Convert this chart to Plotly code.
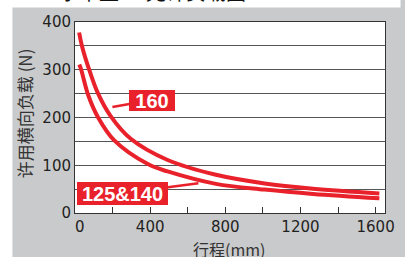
import plotly.graph_objects as go

# ---- data ----
stroke_160 = [22, 37, 80, 123, 188, 295, 493, 750, 1009, 1267, 1620]
load_160 = [378, 350, 295, 250, 204, 156, 111, 80, 62, 51, 41]

stroke_125 = [23, 33, 71, 123, 209, 390, 493, 750, 1009, 1267, 1620]
load_125 = [311, 300, 246, 200, 152, 102, 87, 61, 49, 40, 31]

x_tick_vals = [0, 200, 400, 600, 800, 1000, 1200, 1400, 1600]
x_tick_text = ["\u00a0\u00a00", "", "400", "", "800", "", "1200", "", "1600"]
y_tick_vals = [0, 50, 100, 150, 200, 250, 300, 350, 400]
y_tick_text = ["0", "", "100", "", "200", "", "300", "", "400"]

label_160 = "160"
label_125 = "125&140"
x_title = "行程(mm)"
y_title = "许用横向负载 (N)"

RED = "#e8212b"
GRAY = "#c9cacc"
INK = "#231f20"

W, H = 405, 257
L, R, T, B = 74.5, 11, 21.5, 43.7
pw, ph = W - L - R, H - T - B


def px_to_paper_x(px):
    return (px - L) / pw


def px_to_paper_y(py):
    return (H - B - py) / ph


fig = go.Figure()
fig.add_trace(go.Scatter(x=stroke_160, y=load_160, mode="lines",
                         line=dict(color=RED, width=4, shape="spline", smoothing=1.0),
                         hoverinfo="skip", showlegend=False))
fig.add_trace(go.Scatter(x=stroke_125, y=load_125, mode="lines",
                         line=dict(color=RED, width=4, shape="spline", smoothing=1.0),
                         hoverinfo="skip", showlegend=False))

fig.update_layout(
    width=W, height=H,
    margin=dict(l=L, r=R, t=T, b=B, pad=0),
    paper_bgcolor=GRAY,
    plot_bgcolor="white",
    font=dict(family="DejaVu Sans", color=INK, size=15),
    showlegend=False,
)

fig.update_xaxes(
    range=[0, 1650], tickmode="array", tickvals=x_tick_vals, ticktext=x_tick_text,
    ticks="inside", ticklen=6, tickwidth=1, tickcolor="#333",
    showgrid=False, zeroline=False,
    showline=True, mirror=True, linecolor="#333", linewidth=1,
    tickfont=dict(size=15, color=INK, family="DejaVu Sans"),
)
fig.update_yaxes(
    range=[0, 400], tickmode="array", tickvals=y_tick_vals, ticktext=y_tick_text,
    ticks="", showgrid=True, gridcolor="#555", gridwidth=1, zeroline=False,
    showline=True, mirror=True, linecolor="#333", linewidth=1,
    tickfont=dict(size=15, color=INK, family="DejaVu Sans"),
)

# white strips outside the gray panel
fig.add_shape(type="rect", xref="paper", yref="paper",
              x0=px_to_paper_x(-5), x1=px_to_paper_x(W + 5),
              y0=px_to_paper_y(7), y1=px_to_paper_y(-5),
              fillcolor="white", line_width=0, layer="below")
fig.add_shape(type="rect", xref="paper", yref="paper",
              x0=px_to_paper_x(-5), x1=px_to_paper_x(10),
              y0=px_to_paper_y(H + 5), y1=px_to_paper_y(-5),
              fillcolor="white", line_width=0, layer="below")

# cut-off heading at the very top
fig.add_annotation(xref="paper", yref="paper", x=px_to_paper_x(56), y=px_to_paper_y(7),
                   xanchor="left", yanchor="bottom", showarrow=False,
                   text="水平型", font=dict(family="Noto Sans CJK SC", size=20, color="#111"))
fig.add_annotation(xref="paper", yref="paper", x=px_to_paper_x(146), y=px_to_paper_y(7),
                   xanchor="left", yanchor="bottom", showarrow=False,
                   text="允许负载图", font=dict(family="Noto Sans CJK SC", size=20, color="#111"))

# axis titles
fig.add_annotation(xref="paper", yref="paper", x=px_to_paper_x(233), y=px_to_paper_y(249),
                   xanchor="center", yanchor="middle", showarrow=False,
                   text=x_title, font=dict(family="Noto Sans CJK SC", size=16, color="#333"))
fig.add_annotation(xref="paper", yref="paper", x=px_to_paper_x(22), y=px_to_paper_y(113),
                   xanchor="center", yanchor="middle", showarrow=False, textangle=-90,
                   text=y_title, font=dict(family="Noto Sans CJK SC", size=17, color="#333"))

# series labels with pointers
fig.add_annotation(x=199, y=222, xref="x", yref="y", text="<b>%s</b>" % label_160,
                   showarrow=True, arrowhead=0, arrowwidth=2.5, arrowcolor=RED,
                   ax=40, ay=-7, standoff=0,
                   bgcolor=RED, borderpad=0, borderwidth=0, width=46, height=21,
                   font=dict(family="Liberation Sans", size=20, color="white"))
fig.add_annotation(x=657, y=62.5, xref="x", yref="y", text="<b>%s</b>" % label_125,
                   showarrow=True, arrowhead=0, arrowwidth=2.5, arrowcolor=RED,
                   ax=-76, ay=10, standoff=0,
                   bgcolor=RED, borderpad=0, borderwidth=0, width=91, height=23,
                   font=dict(family="Liberation Sans", size=20, color="white"))

fig.write_html(
    "out.html",
    config={"displayModeBar": False},
    post_script="document.body.style.margin='0';document.body.style.padding='0';",
)
